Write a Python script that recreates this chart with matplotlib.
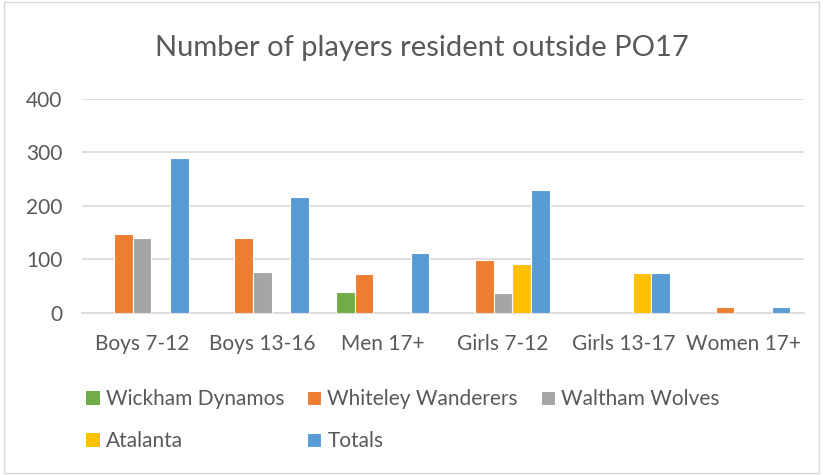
import numpy as np
import matplotlib.pyplot as plt
from matplotlib.patches import Rectangle

categories = ['Boys 7-12', 'Boys 13-16', 'Men 17+', 'Girls 7-12', 'Girls 13-17', 'Women 17+']
series_names = ['Wickham Dynamos', 'Whiteley Wanderers', 'Waltham Wolves', 'Atalanta', 'Totals']
wickham = [0, 0, 40, 0, 0, 0]
whiteley = [148, 140, 73, 99, 0, 12]
waltham = [141, 76, 0, 38, 0, 0]
atalanta = [0, 0, 0, 91, 74, 0]
totals = [290, 217, 112, 229, 75, 12]
colors = ['#70AD47', '#ED7D31', '#A5A5A5', '#FFC000', '#5B9BD5']

plt.rcParams['font.family'] = ['Lato', 'DejaVu Sans']

fig = plt.figure(figsize=(8.23, 4.75), dpi=100)
ax = fig.add_axes([0.0996, 0.341, 0.877, 0.451])

x = np.arange(len(categories))
slot = 0.155
all_series = [wickham, whiteley, waltham, atalanta, totals]
handles = []
for i, (name, vals) in enumerate(zip(series_names, all_series)):
    # no white edge on empty bars, otherwise they leave marks on the baseline
    lw = [0.8 if v else 0 for v in vals]
    b = ax.bar(x + (i - 2) * slot, vals, width=slot, color=colors[i],
               edgecolor='white', linewidth=lw, label=name, zorder=3)
    handles.append(b)

ax.set_ylim(0, 400)
ax.set_xlim(-0.5, len(categories) - 0.5)
ax.set_yticks([0, 100, 200, 300, 400])
ax.set_xticks(x)
ax.set_xticklabels(categories)
ax.tick_params(axis='both', length=0, labelsize=15, labelcolor='#595959')
ax.tick_params(axis='x', pad=15)
ax.tick_params(axis='y', pad=14)
ax.grid(axis='y', color='#D9D9D9', linewidth=1.2, zorder=0)
for s in ['top', 'right', 'left']:
    ax.spines[s].set_visible(False)
ax.spines['bottom'].set_color('#D9D9D9')
ax.spines['bottom'].set_linewidth(1.2)

fig.text(0.513, 0.898, 'Number of players resident outside PO17', ha='center', va='center',
         fontsize=21, color='#595959')

# legend fills row by row in the original, so reorder for matplotlib's column fill
order = [0, 3, 1, 4, 2]
fig.legend([handles[k] for k in order], [series_names[k] for k in order],
           loc='upper left', bbox_to_anchor=(0.104, 0.181), ncol=3, frameon=False,
           fontsize=15, labelcolor='#595959', handlelength=0.67, handleheight=0.67,
           handletextpad=0.3, columnspacing=1.1, labelspacing=1.05,
           borderpad=0, borderaxespad=0)

fig.patches.append(Rectangle((0.005, 0.005), 0.99, 0.99, transform=fig.transFigure,
                             fill=False, edgecolor='#D9D9D9', linewidth=1))

fig.savefig('out.png', dpi=100)
